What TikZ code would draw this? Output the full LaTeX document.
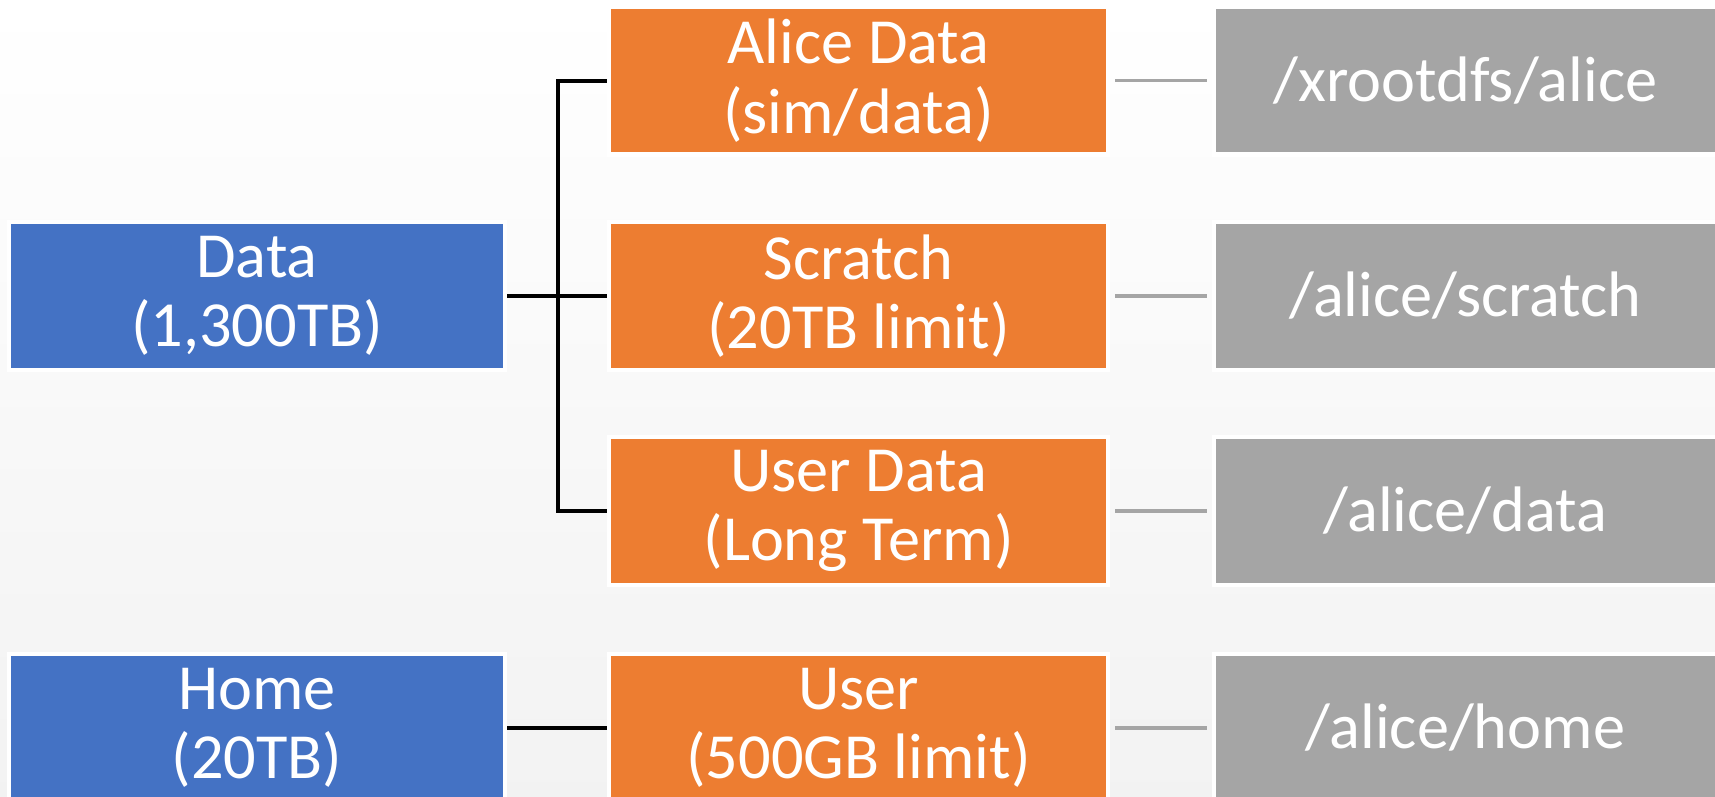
\documentclass[tikz,border=0pt]{standalone}
\usepackage{fontspec}
\setmainfont{Carlito}
\definecolor{boxblue}{HTML}{4472C4}
\definecolor{boxorange}{HTML}{ED7D31}
\definecolor{boxgrey}{HTML}{A5A5A5}
\begin{document}
\begin{tikzpicture}\tikzstyle{every node} = [align=center]
    \tikzstyle{store} = [draw=white, line width=1.2pt, text=white, minimum height=1.48cm,
      inner sep=0pt, font=\fontsize{18.3}{19.8}\selectfont]
    \tikzstyle{area} = [store, fill=boxblue, minimum width=4.96cm]
    \tikzstyle{share} = [store, fill=boxorange, minimum width=4.99cm]
    \tikzstyle{path} = [store, fill=boxgrey, minimum width=5.03cm]
    \tikzstyle{tree} = [line width=1.1pt, black]
    \tikzstyle{link} = [line width=0.9pt, boxgrey]

    \useasboundingbox (0,0) rectangle (17.15,7.97);
    \shade[top color=white, bottom color=black!5] (0,0) rectangle (17.15,7.97);

    \node[area] (data) at (2.57,5.01) {Data\\(1,300TB)};
    \node[area] (home) at (2.57,0.69) {Home\\(20TB)};

    \node[share] (alicedata) at (8.585,7.164) {Alice Data\\(sim/data)};
    \node[share] (scratch) at (8.585,5.01) {Scratch\\(20TB limit)};
    \node[share] (userdata) at (8.585,2.86) {User Data\\(Long Term)};
    \node[share] (user) at (8.585,0.69) {User\\(500GB limit)};

    \node[path] (xrootd) at (14.655,7.164) {/xrootdfs/alice};
    \node[path] (scratchdir) at (14.655,5.01) {/alice/scratch};
    \node[path] (datadir) at (14.655,2.86) {/alice/data};
    \node[path] (homedir) at (14.655,0.69) {/alice/home};

    \coordinate (fork) at (5.58,5.01);
    \draw[tree] (data.east) -- (fork) -- (scratch.west);
    \draw[tree] (alicedata.west) -- (fork |- alicedata) -- (fork |- userdata) -- (userdata.west);
    \draw[tree] (home.east) -- (user.west);

    \draw[link] ([xshift=1.5pt]alicedata.east) -- ([xshift=-1.5pt]xrootd.west);
    \draw[link] ([xshift=1.5pt]scratch.east) -- ([xshift=-1.5pt]scratchdir.west);
    \draw[link] ([xshift=1.5pt]userdata.east) -- ([xshift=-1.5pt]datadir.west);
    \draw[link] ([xshift=1.5pt]user.east) -- ([xshift=-1.5pt]homedir.west);
  \end{tikzpicture}
\end{document}
